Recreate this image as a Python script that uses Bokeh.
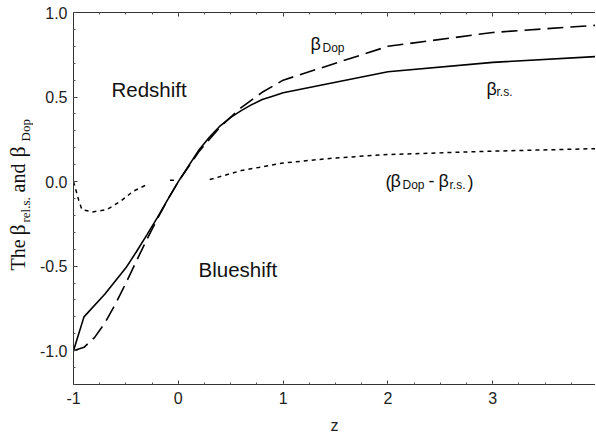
import math
from bokeh.plotting import figure
from bokeh.layouts import row
from bokeh.models import Range1d, FixedTicker, LinearAxis, Label
from bokeh.embed import file_html
from bokeh.resources import INLINE

# ---- data ----
z_rs = [-1.0, -0.9, -0.7, -0.5, -0.4, -0.3, -0.2, -0.1, 0.0, 0.2, 0.3, 0.4, 0.5, 0.6, 0.7, 0.8, 0.9, 1.0, 2.0, 3.0, 4.0]
beta_rs = [-1.0, -0.80, -0.665, -0.51, -0.415, -0.315, -0.213, -0.105, 0.0, 0.19, 0.265, 0.33, 0.38, 0.42, 0.455, 0.485, 0.505, 0.525, 0.65, 0.705, 0.74]

z_dop = [-1.0, -0.9, -0.8, -0.7, -0.6, -0.5, -0.4, -0.3, -0.2, -0.1, 0.0, 0.2, 0.4, 0.6, 0.8, 1.0, 2.0, 3.0, 4.0]
beta_dop = [-1.0, -0.98, -0.923, -0.835, -0.724, -0.60, -0.47, -0.342, -0.22, -0.105, 0.0, 0.18, 0.324, 0.438, 0.528, 0.60, 0.80, 0.882, 0.925]

z_diff_a = [-1.0, -0.95, -0.92, -0.82, -0.68, -0.55, -0.43, -0.3]
diff_a = [0.0, -0.11, -0.165, -0.18, -0.165, -0.116, -0.057, -0.018]
z_diff_b = [-0.08, -0.035]
diff_b = [0.008, 0.008]
z_diff_c = [0.3, 0.6, 1.0, 1.5, 2.0, 3.0, 4.0]
diff_c = [0.012, 0.065, 0.11, 0.14, 0.16, 0.18, 0.195]

x_major = [-1, 0, 1, 2, 3, 4]
x_labels = {-1: "-1", 0: "0", 1: "1", 2: "2", 3: "3", 4: "4"}
y_major = [-1.0, -0.5, 0.0, 0.5, 1.0]
y_labels = {-1.0: "-1.0", -0.5: "-0.5", 0.0: "0.0", 0.5: "0.5", 1.0: "1.0"}

X0, X1 = -1.0, 3.98
Y0, Y1 = -1.2, 1.0

LEFT_W = 33
H = 440
FRAME_TOP, FRAME_BOTTOM = 13, 385   # picture px of the plot frame
FRAME_LEFT = 74

# ---- narrow figure holding the rotated y-axis title ----
lab = figure(width=LEFT_W, height=H, x_range=Range1d(1, 1 + LEFT_W),
             y_range=Range1d(FRAME_BOTTOM, FRAME_TOP),
             output_backend="svg", toolbar_location=None,
             min_border_left=0, min_border_right=0, min_border_top=12, min_border_bottom=56)
lab.axis.visible = False
lab.grid.visible = False
lab.outline_line_color = None
lab.background_fill_color = "white"
lab.border_fill_color = "white"

def put_left(txt, px, py, size):
    lab.add_layout(Label(x=px, y=py, text=txt, text_font="Liberation Serif",
                         text_font_size=f"{size}px", text_color="#111111",
                         text_align="left", text_baseline="middle", angle=math.pi / 2))

put_left("The", 18, 271, 20)
put_left("β", 18, 236, 22)
put_left("rel.s.", 25.5, 223, 13)
put_left("and", 18, 193, 20)
put_left("β", 18, 158, 22)
put_left("Dop", 25.5, 142, 13)

# ---- main figure ----
p = figure(width=595 - LEFT_W, height=H, x_range=Range1d(X0, X1), y_range=Range1d(Y0, Y1),
           output_backend="svg", toolbar_location=None,
           min_border_left=FRAME_LEFT - 1 - LEFT_W, min_border_right=0,
           min_border_top=FRAME_TOP - 1, min_border_bottom=H + 1 - FRAME_BOTTOM)
p.outline_line_color = None
p.xgrid.visible = False
p.ygrid.visible = False
p.background_fill_color = "white"
p.border_fill_color = "white"

x_minor = [i * 0.25 - 1 for i in range(0, 21)]
y_minor = [round(-1.2 + i * 0.1, 2) for i in range(0, 23)]

def style_axis(ax):
    ax.axis_line_color = "#333333"
    ax.axis_line_width = 1
    ax.major_tick_line_color = "#333333"
    ax.minor_tick_line_color = "#555555"
    ax.major_tick_in = 4
    ax.major_tick_out = 0
    ax.minor_tick_in = 2
    ax.minor_tick_out = 0
    ax.major_label_text_font = "Liberation Sans"
    ax.major_label_text_font_size = "16px"
    ax.major_label_text_color = "#222222"

xa = p.xaxis[0]
xa.ticker = FixedTicker(ticks=x_major, minor_ticks=x_minor)
xa.major_label_overrides = x_labels
style_axis(xa)
xa.major_label_standoff = 7
xa.axis_label = "z"
xa.axis_label_text_font = "Liberation Sans"
xa.axis_label_text_font_style = "normal"
xa.axis_label_text_font_size = "16px"
xa.axis_label_text_color = "#222222"
xa.axis_label_standoff = 10

ya = p.yaxis[0]
ya.ticker = FixedTicker(ticks=y_major, minor_ticks=y_minor)
ya.major_label_overrides = y_labels
style_axis(ya)
ya.major_label_standoff = 6

top = LinearAxis(ticker=FixedTicker(ticks=x_major, minor_ticks=x_minor))
style_axis(top)
top.major_label_text_font_size = "0px"
top.major_label_standoff = 0
top.major_label_overrides = {k: "" for k in x_major}
p.add_layout(top, "above")

# ---- curves ----
p.line(z_rs, beta_rs, line_color="black", line_width=1.6)
p.line(z_dop, beta_dop, line_color="black", line_width=1.6, line_dash="16 7")
for zs, ds in ((z_diff_a, diff_a), (z_diff_b, diff_b), (z_diff_c, diff_c)):
    p.line(zs, ds, line_color="black", line_width=1.5, line_dash="4 4")

# ---- text helpers: pixel position in the picture -> data coords ----
PX_SCALE_X = (596 - FRAME_LEFT) / (X1 - X0)
PX_SCALE_Y = (FRAME_BOTTOM - FRAME_TOP) / (Y1 - Y0)

def dx(px):
    return X0 + (px - FRAME_LEFT) / PX_SCALE_X

def dy(py):
    return Y1 - (py - FRAME_TOP) / PX_SCALE_Y

def put(txt, px, py, size):
    p.add_layout(Label(x=dx(px), y=dy(py), text=txt, text_font="Liberation Sans",
                       text_font_size=f"{size}px", text_color="#111111",
                       text_align="left", text_baseline="alphabetic"))

put("Redshift", 112, 90, 20.5)
put("Blueshift", 199, 270, 20.5)

put("β", 311, 44, 18)
put("Dop", 323, 48, 12)
put("β", 487, 89, 18)
put("r.s.", 497, 92, 12)
put("(", 386, 182, 18)
put("β", 391, 181, 18)
put("Dop", 403, 185, 12)
put("-", 429, 181, 18)
put("β", 439, 181, 18)
put("r.s.", 450, 185, 12)
put(")", 468, 182, 18)

layout = row(lab, p, spacing=0)
open("out.html", "w").write(file_html(layout, INLINE))
